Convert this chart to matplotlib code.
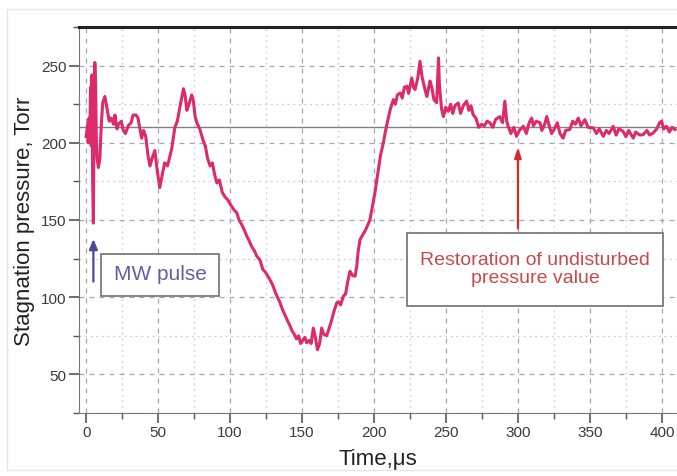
import numpy as np
import matplotlib
matplotlib.use("Agg")
import matplotlib.pyplot as plt
from matplotlib.patches import Rectangle
from matplotlib.ticker import MultipleLocator

plt.rcParams['font.family'] = ['Liberation Sans', 'DejaVu Sans']

# time (us) and stagnation pressure (Torr)
time_us = [0, 1, 1.5, 2, 2.5, 3, 3.5, 4, 4.5, 5, 5.5, 6, 6.5, 7, 7.5, 8.5, 9.5, 10.5, 11.5, 13,
           14.5, 16, 17.5, 19, 20.0, 21.4, 22.4, 24.4, 25.8, 27.3, 29.2, 31.2, 32.6, 34.6, 36.0,
           37.5, 38.5, 39.9, 41.4, 42.9, 44.3, 45.8, 47.7, 49.2, 51.1, 52.6, 54.5, 56.5, 58.1,
           59.4, 61.6, 63.3, 65.3, 67.6, 68.7, 69.9, 71.1, 73.3, 74.5, 75.7, 76.9, 78.9, 81.4,
           82.8, 84.3, 86.1, 87.7, 89.1, 90.8, 92.5, 94.5, 96.4, 98.4, 100.3, 102.3, 104.6, 106.2,
           108.1, 110.1, 111.6, 113.0, 114.9, 116.9, 118.5, 120.8, 122.7, 124.7, 127.6, 129.5,
           131.5, 132.9, 134.7, 136.4, 138.3, 139.8, 141.7, 143.2, 144.6, 146.1, 147.6, 149.0,
           150.5, 151.9, 153.3, 154.9, 156.3, 157.8, 159.2, 160.7, 162.2, 163.6, 165.1, 167.1,
           168.5, 170.5, 171.9, 174.1, 175.3, 176.8, 178.7, 180.2, 181.7, 183.3, 185.1, 186.8,
           188.0, 189.0, 190.3, 191.9, 193.8, 195.8, 197.2, 198.7, 200.6, 202.6, 204.5, 206.5,
           207.7, 209.4, 211.4, 213.4, 214.8, 216.2, 218.2, 219.6, 221.1, 222.8, 224.0, 226.2,
           227.4, 228.5, 230.4, 231.9, 233.3, 235.4, 236.7, 238.9, 240.1, 241.6, 243.5, 244.8,
           245.4, 246.9, 248.2, 249.8, 251.6, 253.2, 254.7, 256.2, 258.5, 260.1, 262.0, 264.3,
           265.9, 267.4, 268.8, 270.8, 272.7, 274.7, 276.6, 278.6, 280.5, 282.5, 284.4, 287.3,
           289.3, 290.9, 292.2, 293.2, 295.1, 297.1, 299.0, 301.0, 303.7, 305.8, 307.8, 309.5,
           310.7, 312.7, 315.3, 316.6, 318.5, 320.0, 321.4, 323.4, 325.7, 327.3, 329.2, 331.4,
           333.1, 336.0, 338.0, 339.9, 341.9, 343.8, 346.5, 348.7, 352.3, 354.5, 356.5, 359.3,
           361.4, 363.3, 366.2, 368.2, 370.1, 373.0, 375.0, 376.9, 380.1, 381.8, 384.7, 387.0,
           389.6, 391.5, 394.0, 396.4, 398.4, 399.8, 401.3, 403.2, 405.2, 407.1, 409.1]
pressure = [204, 212, 200, 216, 203, 236, 198, 244, 175, 148, 232, 252, 240, 205, 190, 184, 190, 212, 226, 230,
            222, 214, 216, 212, 218, 209, 212, 214, 208, 206, 211, 213, 218, 218, 216,
            208, 203, 208, 204, 192, 185, 190, 195, 183, 171, 178, 187, 185, 191,
            196, 210, 214, 224, 235, 231, 221, 224, 231, 227, 217, 213, 209, 201,
            198, 190, 185, 187, 180, 174, 176, 168, 165, 163, 160, 157, 154.7, 150,
            147, 143, 139.5, 137, 133, 130, 126.6, 124, 118, 116, 111.5, 108,
            103, 100, 96.4, 92, 88, 85, 81.3, 78, 76, 73, 75, 70,
            72, 74, 70.5, 72, 70, 80, 74, 66, 70, 80, 76, 75,
            79, 85, 90, 96.4, 97, 95, 100.7, 102, 110, 116.8, 114, 113.6,
            120, 130, 137.4, 140, 143, 147, 150.3, 158, 167.6, 180, 192, 200,
            206.4, 214, 222, 228, 225, 231, 232.3, 229, 236, 236.6, 232, 242,
            236, 234.5, 242, 252.8, 243, 234.5, 230, 240, 236, 228, 226, 255,
            238, 222, 217, 223, 220.4, 225, 219, 224, 225.8, 219, 224, 227,
            221, 224, 218.3, 216, 210, 212, 211, 214, 213, 210, 215, 217,
            213, 227, 214, 210.7, 206, 210, 204.2, 208, 210.7, 206, 213, 216,
            211, 214, 213, 208, 212, 217, 212, 206, 209.7, 213, 206, 203,
            208, 208.6, 214, 212, 216, 211, 215, 210, 209.7, 206, 209, 204.2,
            208, 206, 210.7, 205, 209, 207.5, 204, 208, 203, 207, 205, 205.3,
            208, 205, 206.4, 209, 213, 214, 209, 210.7, 207, 210, 208.6]

undisturbed = 210
x_ticks = [0, 50, 100, 150, 200, 250, 300, 350, 400]
y_ticks = [50, 100, 150, 200, 250]

fig = plt.figure(figsize=(6.77, 4.77), dpi=100)
fig.patches.append(Rectangle((7 / 677, 0.012), 1, 0.968, transform=fig.transFigure,
                             fill=False, edgecolor='#e6e6e6', lw=1))
ax = fig.add_axes([79 / 677, 1 - 414 / 477, 1 - 79 / 677, (414 - 28) / 477])

ax.axhline(undisturbed, color='#808080', lw=1, zorder=2)
ax.plot(time_us, pressure, color='#dd2a6b', lw=2.2, zorder=3)

ax.set_xlim(-5, 410.5)
ax.set_ylim(25, 275)
ax.set_xticks(x_ticks)
ax.set_yticks(y_ticks)
ax.xaxis.set_minor_locator(MultipleLocator(25))
ax.yaxis.set_minor_locator(MultipleLocator(25))
ax.grid(which='major', ls=(0, (4, 4)), color='#a8a8a8', lw=0.9)
ax.grid(which='minor', ls=(0, (1.5, 3)), color='#cfcfcf', lw=0.9)
ax.tick_params(which='major', direction='out', length=7, width=1.2, color='#555555',
               labelsize=11, labelcolor='#3a3a3a', pad=2)
ax.tick_params(which='minor', direction='out', length=4, width=1, color='#555555')
ax.spines['left'].set_color('#777777')
ax.spines['bottom'].set_color('#777777')
ax.spines['top'].set_color('#222222')
ax.spines['top'].set_linewidth(2.2)
ax.spines['right'].set_visible(False)

ax.set_xlabel('Time,\u03bcs', fontsize=16, color='#222222', labelpad=6)
ax.set_ylabel('Stagnation pressure, Torr', fontsize=16, color='#222222', labelpad=4)

# MW pulse marker
ax.annotate('', xy=(5, 139.5), xytext=(5, 108.3),
            arrowprops=dict(arrowstyle='-|>,head_width=0.25,head_length=0.6',
                            color='#4a4a96', lw=1.6))
ax.add_patch(Rectangle((10.4, 101.1), 82, 27.2, fill=True, facecolor='white',
                       edgecolor='#707070', lw=1.2, zorder=4))
ax.text(51.4, 115.5, 'MW pulse', fontsize=15, color='#6060a4', ha='center', va='center', zorder=5)

# restoration marker
ax.annotate('', xy=(300, 198.9), xytext=(300, 142.7),
            arrowprops=dict(arrowstyle='-|>,head_width=0.2,head_length=0.6',
                            color='#d42a2a', lw=1.6))
ax.add_patch(Rectangle((222.9, 94), 177.8, 47.9, fill=True, facecolor='white',
                       edgecolor='#707070', lw=1.2, zorder=4))
ax.text(311.8, 118.6, 'Restoration of undisturbed\npressure value', fontsize=14,
        color='#cc4848', ha='center', va='center', linespacing=1.1, zorder=5)

fig.savefig('out.png', dpi=100)
